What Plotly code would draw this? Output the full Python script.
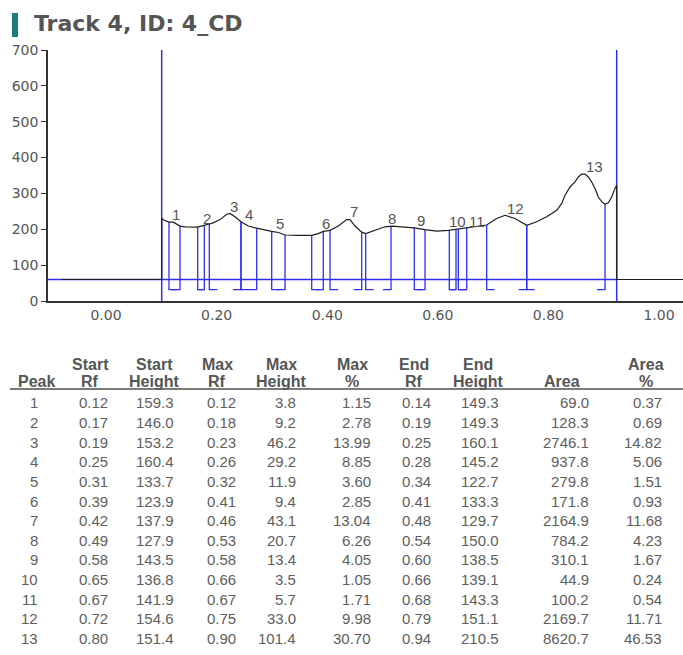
import plotly.graph_objects as go
import numpy as np

# ---------------- peak table ----------------
peak_no = list(range(1, 14))
start_rf = [0.12, 0.17, 0.19, 0.25, 0.31, 0.39, 0.42, 0.49, 0.58, 0.65, 0.67, 0.72, 0.80]
start_height = [159.3, 146.0, 153.2, 160.4, 133.7, 123.9, 137.9, 127.9, 143.5, 136.8, 141.9, 154.6, 151.4]
max_rf = [0.12, 0.18, 0.23, 0.26, 0.32, 0.41, 0.46, 0.53, 0.58, 0.66, 0.67, 0.75, 0.90]
max_height = [3.8, 9.2, 46.2, 29.2, 11.9, 9.4, 43.1, 20.7, 13.4, 3.5, 5.7, 33.0, 101.4]
max_pct = [1.15, 2.78, 13.99, 8.85, 3.60, 2.85, 13.04, 6.26, 4.05, 1.05, 1.71, 9.98, 30.70]
end_rf = [0.14, 0.19, 0.25, 0.28, 0.34, 0.41, 0.48, 0.54, 0.60, 0.66, 0.68, 0.79, 0.94]
end_height = [149.3, 149.3, 160.1, 145.2, 122.7, 133.3, 129.7, 150.0, 138.5, 139.1, 143.3, 151.1, 210.5]
area = [69.0, 128.3, 2746.1, 937.8, 279.8, 171.8, 2164.9, 784.2, 310.1, 44.9, 100.2, 2169.7, 8620.7]
area_pct = [0.37, 0.69, 14.82, 5.06, 1.51, 0.93, 11.68, 4.23, 1.67, 0.24, 0.54, 11.71, 46.53]

# ---------------- densitogram (scan position vs signal) ----------------
scan_pos = [-0.081, 0.1007, 0.1007, 0.1054, 0.1139, 0.1217, 0.1338, 0.1429, 0.1658, 0.1778,
            0.1863, 0.1940, 0.2061, 0.2183, 0.2242, 0.2333, 0.2441, 0.2573, 0.2725, 0.2875,
            0.2996, 0.3116, 0.3237, 0.3477, 0.3720, 0.3839, 0.3929, 0.4051, 0.4201, 0.4353,
            0.4412, 0.4503, 0.4624, 0.4696, 0.4864, 0.5045, 0.5177, 0.5575, 0.5769, 0.5980,
            0.6190, 0.6371, 0.6580, 0.6884, 0.7065, 0.7215, 0.7396, 0.7608, 0.7788, 0.7969,
            0.8150, 0.8241, 0.8300, 0.8391, 0.8481, 0.8541, 0.8602, 0.8662, 0.8722, 0.8783,
            0.8843, 0.8903, 0.8964, 0.9024, 0.9083, 0.9145, 0.9204, 0.9235,
            0.9235, 1.0434]
scan_signal = [60, 60, 230, 225, 220, 220, 209, 207, 206, 211,
               213, 218, 227, 242, 244, 235, 221, 209, 203, 197,
               194, 191, 184, 183, 183, 188, 194, 197, 209, 227,
               227, 209, 192, 188, 197, 207, 209, 204, 199, 195,
               197, 201, 207, 212, 230, 239, 230, 211, 221, 235,
               253, 272, 295, 318, 332, 346, 354, 354, 346, 332,
               314, 290, 277, 270, 274, 290, 314, 323,
               60, 60]

origin_pos = 0.1007
front_pos = 0.9235
baseline_level = 60

# integration windows of each peak on the scan axis
win_start = [0.1139, 0.1658, 0.1868, 0.2441, 0.2996, 0.3720, 0.4051, 0.4696, 0.5575, 0.6208, 0.6371, 0.6884, 0.7608]
win_end = [0.1338, 0.1778, 0.2441, 0.2725, 0.3237, 0.3929, 0.4624, 0.5154, 0.5769, 0.6329, 0.6523, 0.7608, 0.9024]

# peak number label anchors (scan position, signal)
label_pos = [0.1266, 0.1821, 0.2315, 0.2586, 0.3146, 0.3973, 0.4485, 0.5172, 0.5696, 0.6350, 0.6700, 0.7396, 0.8825]
label_sig = [241, 230, 263, 241, 216, 216, 249, 230, 225, 221, 221, 258, 376]

BLUE = "#2f2ff0"
GRAY = "#555555"
AXIS_FONT = dict(family="DejaVu Sans", size=14, color=GRAY)

# ---------------- figure geometry ----------------
W, H = 683, 655
PL, PR, PT, PB = 48, 683, 50, 300.7
X_RANGE = [-0.1049, 1.0434]


def px_x(px):
    return (px - PL) / (PR - PL)


def px_y(py):
    return (PB - py) / (PB - PT)


fig = go.Figure()

# blue baseline, drawn beneath the profile
fig.add_trace(go.Scatter(x=[X_RANGE[0], front_pos], y=[baseline_level, baseline_level],
                         mode="lines", line=dict(color=BLUE, width=1.3), hoverinfo="skip"))

# peak windows: vertical drop lines with short feet
bottom_level = 32
foot = 0.0145
prof_x, prof_y = scan_pos[2:-2], scan_signal[2:-2]
bx, by = [], []
for s, e in zip(win_start, win_end):
    top_s = float(np.interp(s, prof_x, prof_y))
    top_e = float(np.interp(e, prof_x, prof_y))
    bx += [s, s, min(s + foot, e), None, max(e - foot, s), e, e, None]
    by += [top_s, bottom_level, bottom_level, None, bottom_level, bottom_level, top_e, None]
fig.add_trace(go.Scatter(x=bx, y=by, mode="lines", line=dict(color=BLUE, width=1.3),
                         hoverinfo="skip"))

# origin and front lines
for pos in (origin_pos, front_pos):
    fig.add_trace(go.Scatter(x=[pos, pos], y=[0, 700], mode="lines",
                             line=dict(color=BLUE, width=1.5), hoverinfo="skip", cliponaxis=False))

# scanned profile
fig.add_trace(go.Scatter(x=scan_pos, y=scan_signal, mode="lines",
                         line=dict(color="#1e1e1e", width=1.2), hoverinfo="skip"))

annotations = []
for n, xp, yp in zip(peak_no, label_pos, label_sig):
    annotations.append(dict(x=xp, y=yp, xref="x", yref="y", text=str(n), showarrow=False,
                            font=dict(family="Liberation Sans", size=15, color=GRAY), borderpad=0))

# title with teal marker
annotations.append(dict(x=px_x(32), y=px_y(23.5), xref="paper", yref="paper", text="<b>Track 4, ID: 4_CD</b>",
                        showarrow=False, xanchor="left", yanchor="middle",
                        font=dict(family="DejaVu Sans", size=22, color=GRAY)))
shapes = [dict(type="rect", xref="paper", yref="paper", x0=px_x(12), x1=px_x(18),
               y0=px_y(37), y1=px_y(13), fillcolor="#17807a", line=dict(width=0), layer="above")]

# ---------------- table ----------------
head1 = ["", "Start", "Start", "Max", "Max", "Max", "End", "End", "", "Area"]
head2 = ["Peak", "Rf", "Height", "Rf", "Height", "%", "Rf", "Height", "Area", "%"]
head_cx = [36, 90, 154, 217, 281, 352, 414, 478, 562, 646]
col_right = [40, 110, 176, 238, 298, 373, 433, 501, 591, 664]
columns = [
    [str(v) for v in peak_no],
    [f"{v:.2f}" for v in start_rf],
    [f"{v:.1f}" for v in start_height],
    [f"{v:.2f}" for v in max_rf],
    [f"{v:.1f}" for v in max_height],
    [f"{v:.2f}" for v in max_pct],
    [f"{v:.2f}" for v in end_rf],
    [f"{v:.1f}" for v in end_height],
    [f"{v:.1f}" for v in area],
    [f"{v:.2f}" for v in area_pct],
]
HEAD_FONT = dict(family="Liberation Sans", size=16, color=GRAY, weight="bold")
CELL_FONT = dict(family="Liberation Sans", size=15, color="#5e5e5e")
for h1, h2, cx in zip(head1, head2, head_cx):
    if h1:
        annotations.append(dict(x=px_x(cx), y=px_y(364), xref="paper", yref="paper", text=h1,
                                showarrow=False, xanchor="center", yanchor="middle", font=HEAD_FONT))
    annotations.append(dict(x=px_x(cx), y=px_y(381), xref="paper", yref="paper", text=h2,
                            showarrow=False, xanchor="center", yanchor="middle", font=HEAD_FONT))
shapes.append(dict(type="line", xref="paper", yref="paper", x0=px_x(10), x1=px_x(683),
                   y0=px_y(388.5), y1=px_y(388.5), line=dict(color="#7a7a7a", width=2)))
row_y0, row_step = 402.5, 19.6
for col, rx in zip(columns, col_right):
    for i, txt in enumerate(col):
        annotations.append(dict(x=px_x(rx), y=px_y(row_y0 + i * row_step), xref="paper", yref="paper",
                                text=txt, showarrow=False, xanchor="right", yanchor="middle",
                                font=CELL_FONT))

fig.update_layout(
    width=W, height=H,
    margin=dict(l=PL, r=W - PR, t=PT, b=H - PB, pad=0),
    paper_bgcolor="white", plot_bgcolor="white",
    showlegend=False,
    annotations=annotations,
    shapes=shapes,
    xaxis=dict(range=X_RANGE, tickvals=[0, 0.2, 0.4, 0.6, 0.8, 1.0],
               ticktext=["0.00", "0.20", "0.40", "0.60", "0.80", "1.00"],
               showgrid=False, zeroline=False, showline=True, linecolor="#333333", linewidth=1.5,
               ticks="", tickfont=AXIS_FONT),
    yaxis=dict(range=[0, 700], tickvals=list(range(0, 701, 100)),
               showgrid=False, zeroline=False, showline=True, linecolor="#333333", linewidth=1.5,
               ticks="outside", ticklen=5, tickcolor="#333333", tickfont=AXIS_FONT),
)

fig.write_html("out.html")
